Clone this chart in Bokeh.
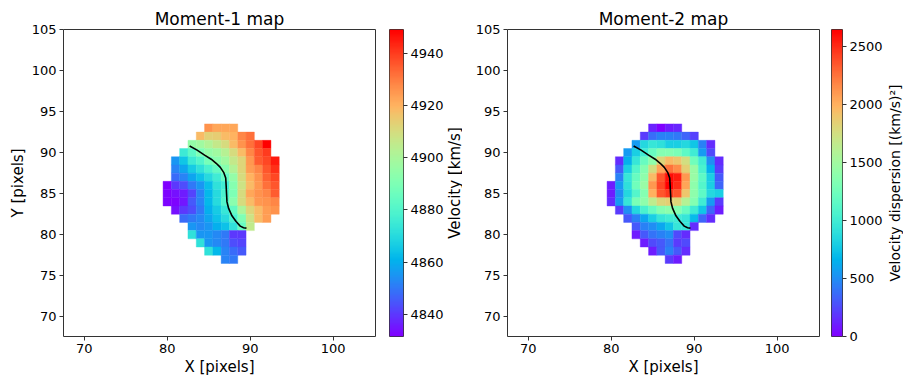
import math
import numpy as np
from bokeh.plotting import figure
from bokeh.models import Range1d, FixedTicker, ColumnDataSource, LinearColorMapper, Label
from bokeh.layouts import row
from bokeh.embed import file_html
from bokeh.resources import INLINE
from bokeh.transform import linear_cmap

N = None
x_pixels = list(range(80, 94))
y_pixels = list(range(93, 76, -1))

# Moment-1 (velocity, km/s); rows Y=93 .. 77, columns X=80 .. 93
moment1 = [
    [N, N, N, N, N, 4926, 4922, 4922, 4922, N, N, N, N, N],
    [N, N, N, N, 4918, 4913, 4914, 4918, 4920, 4928, 4932, N, N, N],
    [N, N, N, 4895, 4898, 4902, 4906, 4910, 4918, 4926, 4932, 4938, 4949, N],
    [N, N, 4875, 4882, 4890, 4895, 4898, 4903, 4910, 4918, 4928, 4936, 4940, N],
    [N, 4855, 4865, 4875, 4880, 4888, 4893, 4898, 4906, 4912, 4925, 4935, 4938, 4945],
    [N, 4852, 4858, 4866, 4872, 4878, 4884, 4892, 4902, 4912, 4924, 4928, 4936, 4942],
    [N, 4848, 4852, 4858, 4864, 4870, 4876, 4884, 4895, 4910, 4920, 4926, 4934, 4938],
    [4831.5, 4840, 4843, 4850, 4855, 4863, 4872, 4876, 4892, 4908, 4918, 4925, 4932, 4936],
    [4832, 4834, 4836, 4842, 4852, 4862, 4870, 4878, 4890, 4910, 4922, 4926, 4928, 4935],
    [4832, 4832, 4835, 4845, 4852, 4862, 4870, 4880, 4893, 4910, 4918, 4925, 4926, 4928],
    [N, 4834, 4840, 4843, 4850, 4860, 4866, 4874, 4884, 4900, 4912, 4918, 4924, 4926],
    [N, N, 4848, 4850, 4853, 4858, 4864, 4870, 4878, 4890, 4908, 4918, 4924, N],
    [N, N, N, 4855, 4853, 4855, 4860, 4864, 4872, 4885, 4905, N, N, N],
    [N, N, N, 4872, 4855, 4855, 4853, 4850, 4840, 4840, N, N, N, N],
    [N, N, N, N, 4872, 4855, 4853, 4850, 4843, 4842, N, N, N, N],
    [N, N, N, N, N, 4872, 4862, 4852, 4848, 4845, N, N, N, N],
    [N, N, N, N, N, N, N, 4852, 4850, N, N, N, N, N],
]

# Moment-2 (velocity dispersion, (km/s)^2); same grid
moment2 = [
    [N, N, N, N, N, 120, 0, 100, 130, N, N, N, N, N],
    [N, N, N, N, 200, 380, 450, 450, 420, 350, 220, N, N, N],
    [N, N, N, 550, 850, 950, 900, 800, 800, 850, 750, 450, 150, N],
    [N, N, 550, 800, 1000, 1200, 1350, 1350, 1300, 1150, 1000, 550, 250, N],
    [N, 150, 650, 950, 1200, 1400, 1800, 1950, 1900, 1750, 1250, 1000, 500, 150],
    [N, 300, 800, 1100, 1350, 1750, 2050, 2250, 2150, 1850, 1450, 1050, 650, 200],
    [N, 450, 950, 1200, 1400, 1950, 2350, 2600, 2550, 2100, 1450, 1150, 800, 300],
    [100, 550, 900, 1250, 1450, 2100, 2400, 2646, 2500, 2050, 1400, 1100, 800, 350],
    [100, 500, 850, 1100, 1350, 2000, 2350, 2450, 2350, 1900, 1400, 1150, 850, 800],
    [150, 550, 950, 1300, 1400, 1650, 1800, 1850, 1800, 1600, 1350, 1000, 550, 200],
    [N, 200, 500, 850, 1050, 1200, 1350, 1400, 1350, 1200, 1000, 750, 350, 100],
    [N, N, 300, 450, 600, 800, 950, 1000, 1000, 950, 700, 350, 150, N],
    [N, N, N, 300, 450, 500, 600, 750, 950, 950, 150, N, N, N],
    [N, N, N, 100, 300, 400, 450, 500, 250, 150, N, N, N, N],
    [N, N, N, N, 100, 250, 300, 400, 200, 250, N, N, N, N],
    [N, N, N, N, N, 100, 300, 450, 300, 150, N, N, N, N],
    [N, N, N, N, N, N, N, 200, 100, N, N, N, N, N],
]

# traced curve
line_x = [82.7, 83.6, 84.5, 85.3, 85.9, 86.4, 86.8, 87.05, 87.1, 87.15, 87.2, 87.4, 87.8, 88.3, 88.8, 89.2, 89.55]
line_y = [90.8, 90.3, 89.7, 89.2, 88.7, 88.2, 87.6, 86.9, 86.0, 85.0, 84.0, 83.2, 82.3, 81.6, 81.05, 80.85, 80.8]

x_ticks = [70, 80, 90, 100]
y_ticks = [70, 75, 80, 85, 90, 95, 100, 105]
cb1_ticks = [4840, 4860, 4880, 4900, 4920, 4940]
cb2_ticks = [0, 500, 1000, 1500, 2000, 2500]

FONT = "DejaVu Sans"
AXC = "#333333"


def rainbow(n=256):
    t = np.linspace(0, 1, n)
    r = np.clip(np.abs(2 * t - 0.5), 0, 1)
    g = np.clip(np.sin(np.pi * t), 0, 1)
    b = np.clip(np.cos(np.pi * t / 2), 0, 1)
    return ["#%02x%02x%02x" % (int(round(a * 255)), int(round(c * 255)), int(round(d * 255)))
            for a, c, d in zip(r, g, b)]


PAL = rainbow()


def grid_source(grid):
    xs, ys, vs = [], [], []
    for yv, rowv in zip(y_pixels, grid):
        for xv, v in zip(x_pixels, rowv):
            if v is not None:
                xs.append(xv)
                ys.append(yv)
                vs.append(v)
    return ColumnDataSource(dict(x=xs, y=ys, v=vs)), min(vs), max(vs)


def style_axis(ax, ticks):
    ax.ticker = FixedTicker(ticks=ticks)
    ax.minor_tick_line_color = None
    ax.major_tick_in = 0
    ax.major_tick_out = 4
    ax.major_tick_line_color = AXC
    ax.axis_line_color = None
    ax.major_label_text_font = FONT
    ax.major_label_text_font_size = "13px"
    ax.major_label_text_color = "black"
    ax.major_label_standoff = 3
    ax.axis_label_text_font = FONT
    ax.axis_label_text_font_size = "15px"
    ax.axis_label_text_font_style = "normal"
    ax.axis_label_text_color = "black"
    ax.axis_label_standoff = 2


def main_fig(title, grid, left_b, right_b, ylabel):
    src, lo, hi = grid_source(grid)
    p = figure(width=left_b + 312 + right_b, height=378,
               x_range=Range1d(67.5, 105.1), y_range=Range1d(67.6, 105.0),
               min_border_left=left_b, min_border_right=right_b,
               min_border_top=29, min_border_bottom=37,
               output_backend="svg", toolbar_location=None, title=title)
    p.title.text_font = FONT
    p.title.text_font_size = "17px"
    p.title.text_font_style = "normal"
    p.title.text_color = "black"
    p.title.align = "center"
    p.title.standoff = 2
    p.grid.visible = False
    p.outline_line_color = AXC
    p.outline_line_width = 1
    p.background_fill_color = "white"
    p.border_fill_color = "white"
    cmap = linear_cmap("v", PAL, lo, hi)
    p.rect(x="x", y="y", width=1, height=1, source=src,
           fill_color=cmap, line_color=cmap, line_width=0.4)
    p.line(line_x, line_y, line_color="black", line_width=1.6)
    style_axis(p.xaxis[0], x_ticks)
    style_axis(p.yaxis[0], y_ticks)
    p.xaxis.axis_label = "X [pixels]"
    if ylabel:
        p.yaxis.axis_label = ylabel
    return p, lo, hi


def cbar_fig(lo, hi, ticks, left_b, right_b):
    p = figure(width=left_b + 15 + right_b, height=378,
               x_range=Range1d(0, 1), y_range=Range1d(lo, hi),
               y_axis_location="right",
               min_border_left=left_b, min_border_right=right_b,
               min_border_top=28, min_border_bottom=36,
               output_backend="svg", toolbar_location=None)
    p.xaxis.visible = False
    p.grid.visible = False
    p.outline_line_color = AXC
    p.outline_line_width = 1
    grad = np.linspace(lo, hi, 256).reshape(256, 1)
    mapper = LinearColorMapper(palette=PAL, low=lo, high=hi)
    p.image(image=[grad], x=0, y=lo, dw=1, dh=hi - lo, color_mapper=mapper)
    style_axis(p.yaxis[0], ticks)
    return p


def label_fig(text, width, size):
    p = figure(width=width, height=378, x_range=Range1d(0, 1), y_range=Range1d(0, 1),
               min_border_left=0, min_border_right=0,
               min_border_top=28, min_border_bottom=36,
               output_backend="svg", toolbar_location=None)
    p.xaxis.visible = False
    p.yaxis.visible = False
    p.grid.visible = False
    p.outline_line_color = None
    p.add_layout(Label(x=0.5, y=0.5, text=text, angle=math.pi / 2,
                       text_align="center", text_baseline="middle",
                       text_font=FONT, text_font_size=size, text_color="black"))
    return p


p1, lo1, hi1 = main_fig("Moment-1 map", moment1, 63, 12, "Y [pixels]")
c1 = cbar_fig(lo1, hi1, cb1_ticks, 2, 42)
l1 = label_fig("Velocity [km/s]", 16, "15px")
p2, lo2, hi2 = main_fig("Moment-2 map", moment2, 45, 11, None)
c2 = cbar_fig(lo2, hi2, cb2_ticks, 1, 39)
l2 = label_fig("Velocity dispersion [(km/s)²]", 19, "14px")

layout = row(p1, c1, l1, p2, c2, l2, spacing=0)
open("out.html", "w").write(file_html(layout, INLINE))
